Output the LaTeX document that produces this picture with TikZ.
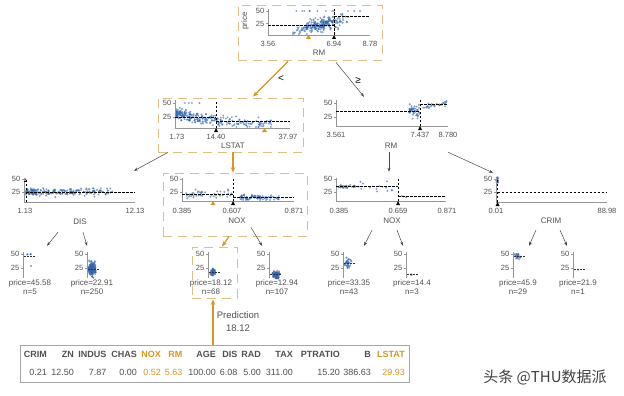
\documentclass[tikz,border=0pt]{standalone}
\usepackage{fontspec}
\setmainfont{Liberation Sans}
\newfontfamily\cjk{Noto Sans CJK SC}
\usetikzlibrary{calc,arrows.meta}
\usepackage{xcolor}
\definecolor{dotblue}{RGB}{50,100,170}
\definecolor{boxtan}{RGB}{222,192,132}
\definecolor{pathorange}{RGB}{218,150,35}
\definecolor{axisgray}{RGB}{150,150,150}
\definecolor{txtgray}{RGB}{80,80,80}
\definecolor{arrowgray}{RGB}{70,70,70}
% scattered points: count, x expression, y expression (\ru is a fresh rnd)
\newcommand{\cloud}[4][1.05]{%
  \foreach \k in {1,...,#2}{%
    \pgfmathsetmacro{\ru}{rnd}%
    \pgfmathsetmacro{\cx}{#3}%
    \pgfmathsetmacro{\cy}{#4}%
    \fill[dot] (\cx,\cy) circle[radius=#1];%
  }%
}

\begin{document}
\begin{tikzpicture}[x=1pt, y=-1pt]
  \tikzset{%
    dot/.style={fill=dotblue, fill opacity=0.62},%
    axisline/.style={draw=axisgray, line width=0.5pt},%
    meanline/.style={draw=black, line width=0.8pt, dash pattern=on 2.5pt off 1.5pt},%
    leafmean/.style={draw=black!80, line width=0.7pt, dash pattern=on 2pt off 1pt},%
    ticklbl/.style={font=\fontsize{7.5}{8}\selectfont, text=txtgray, inner sep=0pt},%
    featlbl/.style={font=\fontsize{8}{9}\selectfont, text=txtgray, inner sep=0pt},%
    leaflbl/.style={font=\fontsize{8}{9}\selectfont, text=txtgray, inner sep=0pt},%
    pathbox/.style={draw=boxtan, line width=0.8pt, dash pattern=on 9pt off 6pt, inner sep=0pt},%
    plotarea/.style={draw=none, inner sep=0pt},%
    treearrow/.style={draw=arrowgray, line width=0.5pt, -{Stealth[length=4pt, width=3pt]}},%
    patharrow/.style={draw=pathorange, line width=1.2pt, -{Stealth[length=5.5pt, width=4.5pt]}},%
    hdrlbl/.style={font=\fontsize{9}{10}\selectfont\bfseries, inner sep=0pt, anchor=east},%
    vallbl/.style={font=\fontsize{9}{10}\selectfont, inner sep=0pt, anchor=east},%
  }%
  \useasboundingbox (0,0) rectangle (624,396);%
  \pgfmathsetseed{42}%

  %
  % Tree nodes
  %
  \node[pathbox, minimum width=144, minimum height=55] (rm-root) at (310,32.5) {};%
  \node[pathbox, minimum width=145, minimum height=54] (lstat) at (230.5,125) {};%
  \node[plotarea, minimum width=140, minimum height=56] (rm-right) at (389,124) {};%
  \node[plotarea, minimum width=140, minimum height=56] (dis) at (75,200) {};%
  \node[pathbox, minimum width=144, minimum height=63] (nox-left) at (235,204.5) {};%
  \node[plotarea, minimum width=140, minimum height=56] (nox-right) at (389,200) {};%
  \node[plotarea, minimum width=140, minimum height=56] (crim) at (548,200) {};%
  \foreach \nm/\lcx in {leaf1/32, leaf2/94, leaf4/279, leaf5/351, leaf6/414, leaf7/520, leaf8/580} {%
      \node[plotarea, minimum width=45, minimum height=51] (\nm) at (\lcx,272.5) {};%
    }%
  \node[pathbox, minimum width=45, minimum height=51] (leaf3) at (214.5,272.5) {};%

  % Root: RM
  \cloud{240}{max(270,min(369,321+12*(rand+rand+rand)))}{max(12,min(34,36.6-0.228*(\cx-268)+3*(rand+rand+rand)))}%
  \cloud{12}{290+78*\ru}{11}%
  \draw[axisline] (268,9) -- (268,35) -- (370,35);%
  \foreach \yy/\yl in {11/50, 23.5/25} \draw[axisline] (268,\yy) -- ++(-2,0) node[ticklbl, left=1.5pt] {\yl};%
  \foreach \tx/\tl in {268/3.56, 334/6.94, 370/8.78} \node[ticklbl] at (\tx,43.5) {\tl};%
  \node[featlbl] at (319,53) {RM};%
  \node[featlbl, rotate=90] at (245,21) {price};%
  \draw[meanline] (334,35) -- (334,9);%
  \draw[meanline] (268,25.8) -- (334,25.8);%
  \draw[meanline] (334,16) -- (370,16);%
  \fill[black] (334,35) -- ++(-2,4) -- ++(4,0) -- cycle;%
  \fill[pathorange] (308.5,35) -- ++(-2.5,4) -- ++(5,0) -- cycle;%

  % LSTAT
  \cloud{270}{176+95*(\ru+0.01)^1.7}{max(104,min(127,131-0.56*(10+22*exp(-(\cx-175)/45))+2.5*(rand+rand+rand)))}%
  \cloud{4}{180+25*\ru}{103}%
  \draw[axisline] (175,100) -- (175,128) -- (290,128);%
  \foreach \yy/\yl in {103/50, 117/25} \draw[axisline] (175,\yy) -- ++(-2,0) node[ticklbl, left=1.5pt] {\yl};%
  \foreach \tx/\tl in {177/1.73, 216/14.40, 288/37.97} \node[ticklbl] at (\tx,136.5) {\tl};%
  \node[featlbl] at (233,146) {LSTAT};%
  \draw[meanline] (216,128) -- (216,100);%
  \draw[meanline] (175,117.5) -- (216,117.5);%
  \draw[meanline] (216,121) -- (290,121);%
  \fill[black] (216,128) -- ++(-2,4) -- ++(4,0) -- cycle;%
  \fill[pathorange] (264.5,128) -- ++(-2.5,4) -- ++(5,0) -- cycle;%

  % RM, right branch
  \cloud{45}{409+11*\ru}{max(102,min(125,111+3.5*(rand+rand+rand)))}%
  \cloud{28}{421+26*\ru}{max(101,min(125,107-0.15*(\cx-421)+1.5*(rand+rand)))}%
  \draw[axisline] (336,100) -- (336,126) -- (448,126);%
  \foreach \yy/\yl in {103/50, 117/25} \draw[axisline] (336,\yy) -- ++(-2,0) node[ticklbl, left=1.5pt] {\yl};%
  \foreach \tx/\tl in {336/3.561, 420/7.437, 448/8.780} \node[ticklbl] at (\tx,135) {\tl};%
  \node[featlbl] at (391,146) {RM};%
  \draw[meanline] (420,126) -- (420,100);%
  \draw[meanline] (336,111) -- (420,111);%
  \draw[meanline] (420,104) -- (448,104);%
  \fill[black] (420,126) -- ++(-2,4) -- ++(4,0) -- cycle;%

  % DIS
  \cloud{230}{26+85*(\ru+0.01)^1.5}{max(181,min(201,192+2*(rand+rand+rand)))}%
  \cloud{4}{24.5+2*\ru}{179.5}%
  \draw[axisline] (24,178) -- (24,202) -- (135,202);%
  \foreach \yy/\yl in {179/50, 192/25} \draw[axisline] (24,\yy) -- ++(-2,0) node[ticklbl, left=1.5pt] {\yl};%
  \foreach \tx/\tl in {25/1.13, 135/12.13} \node[ticklbl] at (\tx,210.5) {\tl};%
  \node[featlbl] at (80,222) {DIS};%
  \draw[meanline] (26,202) -- (26,178);%
  \draw[meanline] (24,181) -- (26,181);%
  \draw[meanline] (26,192) -- (135,192);%

  % NOX, left branch
  \cloud{45}{185+47*\ru}{max(186,min(200,194.5+1.8*(rand+rand+rand)))}%
  \cloud{80}{240+40*(\ru+0.01)^1.3}{max(188,min(200,197.5+1.5*(rand+rand+rand)))}%
  \draw[axisline] (182,178) -- (182,201) -- (294,201);%
  \foreach \yy/\yl in {179/50, 192/25} \draw[axisline] (182,\yy) -- ++(-2,0) node[ticklbl, left=1.5pt] {\yl};%
  \foreach \tx/\tl in {182/0.385, 232/0.607, 294/0.871} \node[ticklbl] at (\tx,210.5) {\tl};%
  \node[featlbl] at (237,221) {NOX};%
  \draw[meanline] (233,201) -- (233,177);%
  \draw[meanline] (182,194.6) -- (233,194.6);%
  \draw[meanline] (233,197.3) -- (294,197.3);%
  \fill[black] (233,201) -- ++(-2,4) -- ++(4,0) -- cycle;%
  \fill[pathorange] (213,201) -- ++(-2.5,4) -- ++(5,0) -- cycle;%

  % NOX, right branch
  \cloud{30}{338+22*\ru}{186.5+1*(rand+rand)}%
  \cloud{13}{360+38*\ru}{max(179,min(199,187+4*(rand+rand)))}%
  \cloud{3}{401+8*\ru}{196+1.5*rand}%
  \draw[axisline] (336,178) -- (336,201) -- (446,201);%
  \foreach \yy/\yl in {179/50, 192/25} \draw[axisline] (336,\yy) -- ++(-2,0) node[ticklbl, left=1.5pt] {\yl};%
  \foreach \tx/\tl in {339/0.385, 398/0.659, 447/0.871} \node[ticklbl] at (\tx,210.5) {\tl};%
  \node[featlbl] at (392,221) {NOX};%
  \draw[meanline] (398,201) -- (398,177);%
  \draw[meanline] (336,186.7) -- (398,186.7);%
  \draw[meanline] (398,196.5) -- (446,196.5);%
  \fill[black] (398,201) -- ++(-2,4) -- ++(4,0) -- cycle;%

  % CRIM
  \cloud{29}{496.5+1.5*\ru}{max(177.5,min(186,180+2*(rand+rand)))}%
  \cloud{1}{498}{193}%
  \draw[axisline] (496,177) -- (496,202) -- (607,202);%
  \foreach \yy/\yl in {179/50, 192/25} \draw[axisline] (496,\yy) -- ++(-2,0) node[ticklbl, left=1.5pt] {\yl};%
  \foreach \tx/\tl in {496/0.01, 607/88.98} \node[ticklbl] at (\tx,210.5) {\tl};%
  \node[featlbl] at (551,221) {CRIM};%
  \draw[meanline] (497.5,202) -- (497.5,178);%
  \draw[meanline] (497.5,192.6) -- (607,192.6);%
  \fill[black] (497.5,202) -- ++(-2,4) -- ++(4,0) -- cycle;%

  %
  % Leaves
  %
  \cloud{5}{27+5*\ru}{254+0.8*rand}%
  \cloud{1}{31}{266}%
  \cloud[0.95]{250}{92+2.2*(rand+rand)}{max(257,min(279,269+3.5*(rand+rand+rand)))}%
  \cloud[0.95]{68}{213+1.8*(rand+rand)}{max(264,min(279,271.9+2.2*(rand+rand+rand)))}%
  \cloud[0.95]{107}{276+2.2*(rand+rand)}{max(269,min(280,274.8+1.8*(rand+rand+rand)))}%
  \cloud[0.95]{43}{348+1.8*(rand+rand)}{max(256,min(273,263.3+2.5*(rand+rand+rand)))}%
  \cloud{3}{410+4*\ru}{274+1*rand}%
  \cloud[0.95]{29}{518+2*(rand+rand)}{max(254,min(263,256.3+1.8*(rand+rand+rand)))}%
  \cloud{1}{578}{269.7}%
  \foreach \ax/\my/\lx/\pv/\nv in {23/256.5/30/45.58/5, 87/269.2/92/22.91/250, 208/271.9/211/18.12/68, 269/274.8/277/12.94/107, 343/263.3/349/33.35/43, 406/273.9/412/14.4/3, 513/256.3/518/45.9/29, 573/269.7/578/21.9/1} {%
      \draw[axisline] (\ax,252) -- (\ax,278);%
      \foreach \yy/\yl in {254/50, 268/25} \draw[axisline] (\ax,\yy) -- ++(-2,0) node[ticklbl, left=1.5pt] {\yl};%
      \draw[leafmean] (\ax+1,\my) -- ++(11,0);%
      \node[leaflbl] at (\lx,283) {price=\pv};%
      \node[leaflbl] at (\lx,292) {n=\nv};%
    }%

  %
  % Connectors
  %
  \draw[patharrow] ($(rm-root.south)+(-22,1)$) -- ($(lstat.north)+(22.5,-1)$);%
  \draw[treearrow] ($(rm-root.south)+(26,2)$) -- ($(rm-right.north)+(-25,1)$);%
  \node[font=\fontsize{10}{11}\selectfont, text=black] (lt) at (281,79) {<};%
  \node[font=\fontsize{10}{11}\selectfont, text=black] (ge) at (358,80) {≥};%
  \draw[treearrow] ($(lstat.south)+(-62.5,0)$) -- ($(dis.north)+(59,-1)$);%
  \draw[patharrow] ($(lstat.south)+(2.5,0)$) -- ($(nox-left.north)+(-2,0)$);%
  \draw[treearrow] (rm-right.south) -- (nox-right.north);%
  \draw[treearrow] ($(rm-right.south)+(59,0)$) -- ($(crim.north)+(-55,1)$);%
  \draw[treearrow] ($(dis.south)+(-17,4)$) -- ($(leaf1.north)+(15,-1)$);%
  \draw[treearrow] ($(dis.south)+(8,4)$) -- ($(leaf2.north)+(-7,-1)$);%
  \draw[patharrow] ($(nox-left.south)+(-6,0)$) -- ($(leaf3.north)+(7.5,0)$);%
  \draw[treearrow] ($(nox-left.south)+(16,-9)$) -- ($(leaf4.north)+(-17,-1)$);%
  \draw[treearrow] ($(nox-right.south)+(-17,2)$) -- ($(leaf5.north)+(13,-1)$);%
  \draw[treearrow] ($(nox-right.south)+(8,2)$) -- ($(leaf6.north)+(-11,-1)$);%
  \draw[treearrow] ($(crim.south)+(-12,2)$) -- ($(leaf7.north)+(9,-1)$);%
  \draw[treearrow] ($(crim.south)+(12,2)$) -- ($(leaf8.north)+(-13,-1)$);%

  %
  % Instance and prediction
  %
  \node[draw=black!35, line width=0.6pt, minimum width=389, minimum height=37, inner sep=0pt] (instance) at (214.5,363.5) {};%
  \draw[patharrow] ($(instance.north)+(-1.5,0)$) -- ($(leaf3.south)+(-1.5,1)$);%
  \node[font=\fontsize{9.5}{11}\selectfont, text=txtgray] (pred) at (238,315) {Prediction};%
  \node[font=\fontsize{9.5}{11}\selectfont, text=txtgray] (predval) at (238,328) {18.12};%
  \foreach \rx/\hd/\vl/\cl in {47/CRIM/0.21/txtgray, 74/ZN/12.50/txtgray, 106.5/INDUS/7.87/txtgray, 137/CHAS/0.00/txtgray, 161/NOX/0.52/pathorange, 182.5/RM/5.63/pathorange, 216/AGE/100.00/txtgray, 237.5/DIS/6.08/txtgray, 261/RAD/5.00/txtgray, 293/TAX/311.00/txtgray, 340/PTRATIO/15.20/txtgray, 371/B/386.63/txtgray, 405/LSTAT/29.93/pathorange} {%
      \node[hdrlbl, text=\cl] at (\rx,354) {\hd};%
      \node[vallbl, text=\cl] at (\rx,372) {\vl};%
    }%

  % watermark
  \node[font=\cjk\fontsize{15}{16}\selectfont, text=black!75] (mark) at (545,377) {头条 @THU数据派};%
\end{tikzpicture}
\end{document}
